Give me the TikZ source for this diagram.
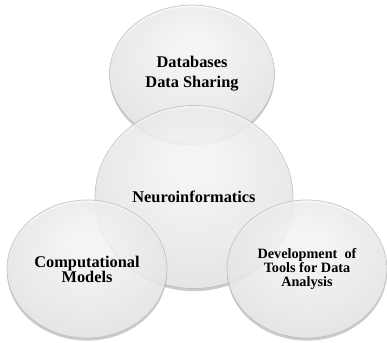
\documentclass[tikz,border=0pt]{standalone}
\usepackage{fontspec}
\setmainfont{Liberation Serif}
\usepackage{tikz}
\usetikzlibrary{shapes.geometric}
\usetikzlibrary{shadows}

\pgfdeclareradialshading{bubble}{\pgfpoint{0bp}{10bp}}{%
  color(0bp)=(white); color(12bp)=(gray!6); color(30bp)=(gray!16);
  color(44bp)=(gray!28); color(52bp)=(gray!42); color(60bp)=(gray!55)}

\tikzset{
  bubble/.style={ellipse, shading=bubble, draw=gray!55, line width=0.4pt,
    fill opacity=0.85, draw opacity=0.8, text opacity=1, align=center,
    inner sep=0pt, font=\bfseries\fontsize{9.3}{11.3}\selectfont,
    drop shadow={shadow xshift=0pt, shadow yshift=-1.5pt, opacity=0.2, fill=black}},
}

\begin{document}
\begin{tikzpicture}
        \useasboundingbox (0,0) rectangle (7.74,6.84);

        \node[bubble, minimum width=3.3cm, minimum height=2.76cm] (data) at (3.84,5.36) {Databases\\Data Sharing};
        \node[bubble, minimum width=3.96cm, minimum height=3.66cm] (neuro) at (3.88,2.90) {Neuroinformatics};
        \node[bubble, minimum width=3.2cm, minimum height=2.76cm,
              font=\bfseries\fontsize{9.3}{8.6}\selectfont] (models) at (1.74,1.46) {Computational\\Models};
        \node[bubble, minimum width=3.2cm, minimum height=2.76cm,
              font=\bfseries\fontsize{8.1}{7.8}\selectfont] (tools) at (6.14,1.46) {Development\ \ of\\Tools for Data\\Analysis};
    \end{tikzpicture}
\end{document}
